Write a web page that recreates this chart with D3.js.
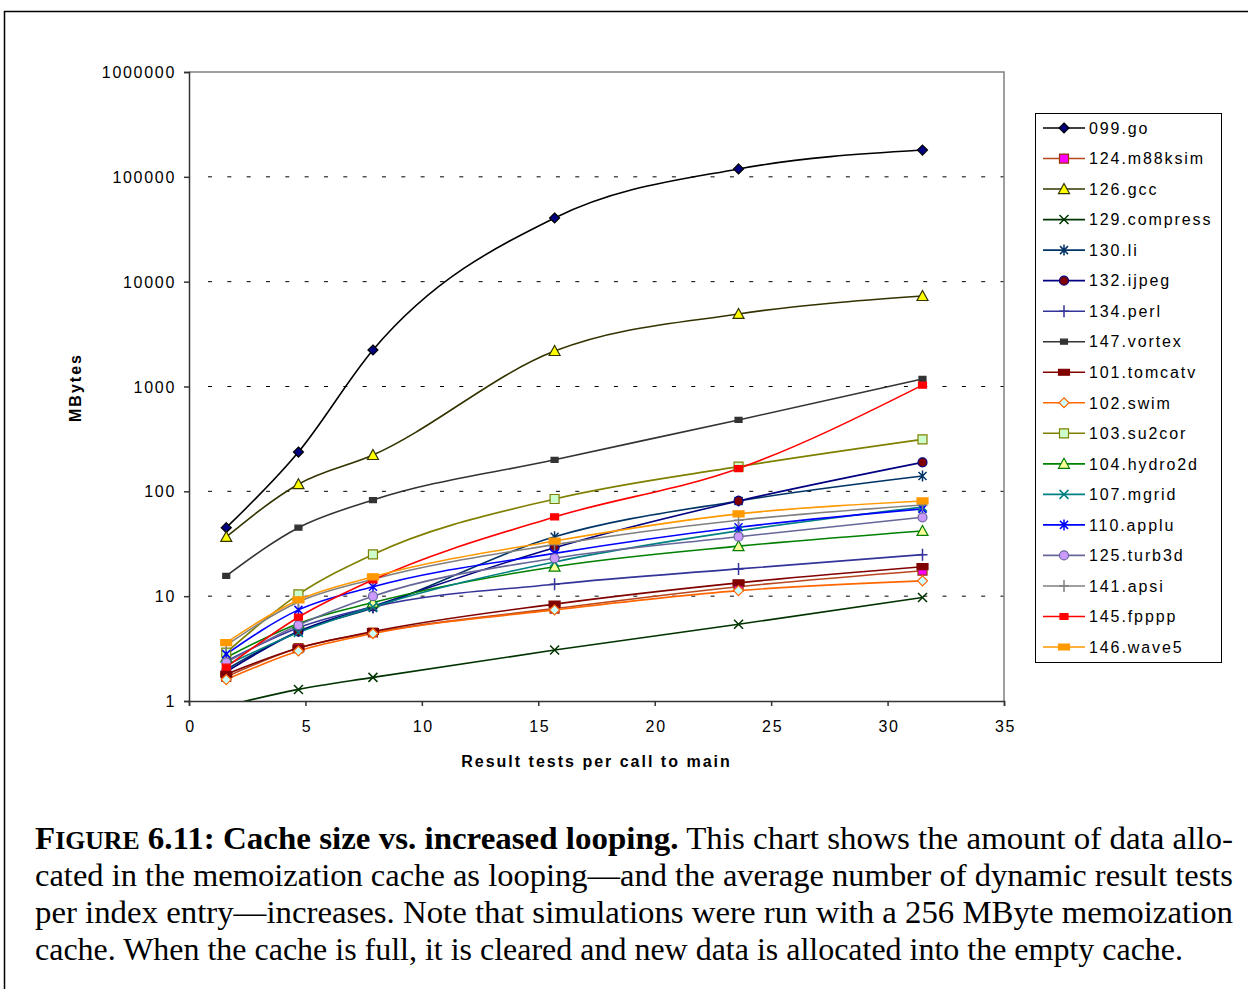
<!DOCTYPE html>
<html>
<head>
<meta charset="utf-8">
<script src="https://cdn.jsdelivr.net/npm/d3@7"></script>
<style>
  body { margin: 0; background: #fff; }
  svg { display: block; }
</style>
</head>
<body>
<div id="chart"></div>
<script>
// data
const xValues = [1.6, 4.7, 7.9, 15.7, 23.6, 31.5];

const names = ["099.go", "124.m88ksim", "126.gcc", "129.compress", "130.li", "132.ijpeg",
  "134.perl", "147.vortex", "101.tomcatv", "102.swim", "103.su2cor", "104.hydro2d",
  "107.mgrid", "110.applu", "125.turb3d", "141.apsi", "145.fpppp", "146.wave5"];

const go       = [45, 237, 2230, 40500, 119000, 180000];
const m88ksim  = [1.7, 3.2, 4.5, 7.6, 12.3, 17.5];
const gcc      = [36.7, 117, 222, 2180, 4920, 7300];
const compress = [0.9, 1.29, 1.68, 3.06, 5.4, 9.7];
const li       = [2.0, 4.6, 7.7, 36.9, 81, 140];
const ijpeg    = [1.9, 4.6, 8.0, 29, 81, 189];
const perl     = [2.4, 5.0, 7.9, 13, 18.2, 24.9];
const vortex   = [15.6, 45, 82.6, 200, 480, 1180];
const tomcatv  = [1.8, 3.2, 4.6, 8.4, 13.4, 19.1];
const swim     = [1.6, 3.0, 4.4, 7.4, 11.3, 14];
const su2cor   = [2.9, 10.4, 25, 84.5, 172, 313];
const hydro2d  = [2.6, 5.5, 8.7, 19.1, 30, 41.9];
const mgrid    = [2.2, 4.5, 7.9, 21.2, 42, 71];
const applu    = [2.8, 7.4, 12.3, 25.6, 45.4, 68];
const turb3d   = [2.34, 5.3, 10, 23, 36.9, 56.5];
const apsi     = [3.4, 8.8, 14.5, 31, 53, 74];
const fpppp    = [2.1, 6.3, 14.3, 57, 165, 1030];
const wave5    = [3.6, 9.2, 15.3, 33.6, 61, 81];

const seriesValues = [go, m88ksim, gcc, compress, li, ijpeg, perl, vortex, tomcatv,
  swim, su2cor, hydro2d, mgrid, applu, turb3d, apsi, fpppp, wave5];

const yTicks = [1, 10, 100, 1000, 10000, 100000, 1000000];
const xTicks = [0, 5, 10, 15, 20, 25, 30, 35];

// look of each series (line colour, marker, marker fill, marker border)
const styles = [
  { line: "#000000", marker: "diamond",  fill: "#000080", edge: "#000000" },
  { line: "#b8461e", marker: "square",   fill: "#ff00ff", edge: "#993300" },
  { line: "#333300", marker: "triangle", fill: "#ffff00", edge: "#333300" },
  { line: "#003300", marker: "x",        fill: "none",    edge: "#003300" },
  { line: "#003366", marker: "star",     fill: "none",    edge: "#003366" },
  { line: "#000080", marker: "circle",   fill: "#800000", edge: "#000080" },
  { line: "#333399", marker: "plus",     fill: "none",    edge: "#333399" },
  { line: "#333333", marker: "smallsq",  fill: "#333333", edge: "#333333" },
  { line: "#800000", marker: "bar",      fill: "#800000", edge: "#800000" },
  { line: "#ff6600", marker: "diamond",  fill: "#ccffff", edge: "#ff6600" },
  { line: "#808000", marker: "square",   fill: "#ccffcc", edge: "#808000" },
  { line: "#008000", marker: "triangle", fill: "#ffff99", edge: "#008000" },
  { line: "#008080", marker: "x",        fill: "none",    edge: "#008080" },
  { line: "#0000ff", marker: "star",     fill: "none",    edge: "#0000ff" },
  { line: "#666699", marker: "circle",   fill: "#cc99ff", edge: "#666699" },
  { line: "#808080", marker: "plus",     fill: "none",    edge: "#808080" },
  { line: "#ff0000", marker: "redsq",    fill: "#ff0000", edge: "#ff0000" },
  { line: "#ff9900", marker: "bar",      fill: "#ff9900", edge: "#ff9900" }
];

const markerPaths = {
  diamond:  "M0,-5L5,0L0,5L-5,0Z",
  square:   "M-4.5,-4.5h9v9h-9Z",
  triangle: "M0,-5.5L5.5,4.5L-5.5,4.5Z",
  circle:   "M-4.5,0a4.5,4.5 0 1,0 9,0a4.5,4.5 0 1,0 -9,0",
  x:        "M-4.5,-4.5L4.5,4.5M-4.5,4.5L4.5,-4.5",
  star:     "M-4,-4L4,4M-4,4L4,-4M0,-5.5V5.5",
  plus:     "M-5,0H5M0,-6V6",
  smallsq:  "M-3.5,-2.5h7v5h-7Z",
  redsq:    "M-4,-3h8v6h-8Z",
  bar:      "M-5.5,-3h11v6h-11Z"
};

const sansFont = "'Liberation Sans', Arial, sans-serif";

const width = 1248, height = 989;
const margin = { left: 189, right: 1004, top: 72, bottom: 701 };

const svg = d3.select("#chart")
    .append("svg")
    .attr("width", width)
    .attr("height", height);

// page frame
svg.append("path")
    .attr("d", `M4.5,${height}V11.5H${width}`)
    .attr("fill", "none")
    .attr("stroke", "#000")
    .attr("stroke-width", 1.5);

const x = d3.scaleLinear().domain([0, 35]).range([margin.left, margin.right]);
const y = d3.scaleLog().domain([1, 1000000]).range([margin.bottom, margin.top]);

// grid lines
svg.append("g")
    .selectAll("line")
    .data(yTicks.slice(1, -1))
    .join("line")
    .attr("x1", x(0) + 19)
    .attr("x2", x(35))
    .attr("y1", d => y(d))
    .attr("y2", d => y(d))
    .attr("stroke", "#000")
    .attr("stroke-width", 1)
    .attr("stroke-dasharray", "4,15.33");

// top and right plot border
svg.append("path")
    .attr("d", `M${x(0)},${y(1000000)}H${x(35)}V${y(1)}`)
    .attr("fill", "none")
    .attr("stroke", "#808080")
    .attr("stroke-width", 1.5);

// axes
const yAxis = svg.append("g")
    .attr("transform", `translate(${x(0)},0)`)
    .call(d3.axisLeft(y).tickValues(yTicks).tickFormat(d3.format("d")).tickSize(5).tickPadding(10));

const xAxis = svg.append("g")
    .attr("transform", `translate(0,${y(1)})`)
    .call(d3.axisBottom(x).tickValues(xTicks).tickSize(5).tickPadding(15));

[yAxis, xAxis].forEach(a => {
    a.select(".domain").attr("stroke", "#333").attr("stroke-width", 1.5);
    a.selectAll(".tick line").attr("stroke", "#333").attr("stroke-width", 1.5);
    a.selectAll("text")
        .attr("fill", "#000")
        .style("font-family", sansFont)
        .style("font-size", "16px")
        .style("letter-spacing", "1.7px");
});
yAxis.selectAll("text").attr("dy", "0.35em").attr("dx", "2px");
xAxis.selectAll("text").attr("dx", "1px");

// axis titles
svg.append("text")
    .attr("x", (x(0) + x(35)) / 2)
    .attr("y", 767)
    .attr("text-anchor", "middle")
    .style("font-family", sansFont)
    .style("font-size", "16px")
    .style("font-weight", "bold")
    .style("letter-spacing", "2px")
    .text("Result tests per call to main");

svg.append("text")
    .attr("transform", `translate(81,${(y(1) + y(1000000)) / 2 + 1}) rotate(-90)`)
    .attr("text-anchor", "middle")
    .style("font-family", sansFont)
    .style("font-size", "16px")
    .style("font-weight", "bold")
    .style("letter-spacing", "2px")
    .text("MBytes");

// series lines and markers
svg.append("clipPath").attr("id", "plot-clip")
    .append("rect")
    .attr("x", x(0)).attr("y", y(1000000))
    .attr("width", x(35) - x(0)).attr("height", y(1) - y(1000000));

const line = d3.line()
    .x((d, i) => x(xValues[i]))
    .y(d => y(d))
    .curve(d3.curveMonotoneX);

const plot = svg.append("g").attr("clip-path", "url(#plot-clip)");

seriesValues.forEach((values, k) => {
    const s = styles[k];
    plot.append("path")
        .attr("d", line(values))
        .attr("fill", "none")
        .attr("stroke", s.line)
        .attr("stroke-width", 1.6);
});

seriesValues.forEach((values, k) => {
    const s = styles[k];
    plot.append("g")
        .selectAll("path")
        .data(values)
        .join("path")
        .attr("transform", (d, i) => `translate(${x(xValues[i])},${y(d)})`)
        .attr("d", markerPaths[s.marker])
        .attr("fill", s.fill)
        .attr("stroke", s.edge)
        .attr("stroke-width", s.fill === "none" ? 1.5 : 1.2);
});

// legend
const legend = svg.append("g");
legend.append("rect")
    .attr("x", 1035.5).attr("y", 113.5)
    .attr("width", 186).attr("height", 549)
    .attr("fill", "#fff")
    .attr("stroke", "#000")
    .attr("stroke-width", 1);

const entry = legend.selectAll("g.entry")
    .data(names)
    .join("g")
    .attr("class", "entry")
    .attr("transform", (d, i) => `translate(0,${128 + i * 30.53})`);

entry.append("line")
    .attr("x1", 1043).attr("x2", 1085)
    .attr("stroke", (d, i) => styles[i].line)
    .attr("stroke-width", 1.6);

entry.append("path")
    .attr("transform", "translate(1064,0)")
    .attr("d", (d, i) => markerPaths[styles[i].marker])
    .attr("fill", (d, i) => styles[i].fill)
    .attr("stroke", (d, i) => styles[i].edge)
    .attr("stroke-width", (d, i) => styles[i].fill === "none" ? 1.5 : 1.2);

entry.append("text")
    .attr("x", 1089)
    .attr("dy", "0.36em")
    .style("font-family", sansFont)
    .style("font-size", "16px")
    .style("letter-spacing", "1.9px")
    .text(d => d);

// caption
const caption = svg.append("g")
    .style("font-family", "'Liberation Serif', 'Times New Roman', serif")
    .style("font-size", "32px");

const line1 = caption.append("text")
    .attr("x", 35).attr("y", 849)
    .attr("textLength", 1198)
    .attr("lengthAdjust", "spacingAndGlyphs");
line1.append("tspan").style("font-weight", "bold").text("F");
line1.append("tspan").style("font-weight", "bold").style("font-size", "25px").text("IGURE");
line1.append("tspan").style("font-weight", "bold").text(" 6.11: Cache size vs. increased looping.");
line1.append("tspan").text(" This chart shows the amount of data allo-");

const captionLines = [
  "cated in the memoization cache as looping\u2014and the average number of dynamic result tests",
  "per index entry\u2014increases. Note that simulations were run with a 256 MByte memoization",
  "cache. When the cache is full, it is cleared and new data is allocated into the empty cache."
];
const lineEnds = [1233, 1233, 1183];

captionLines.forEach((t, i) => {
    caption.append("text")
        .attr("x", 35).attr("y", 886 + i * 37)
        .attr("textLength", lineEnds[i] - 35)
        .attr("lengthAdjust", "spacingAndGlyphs")
        .text(t);
});
</script>
</body>
</html>
